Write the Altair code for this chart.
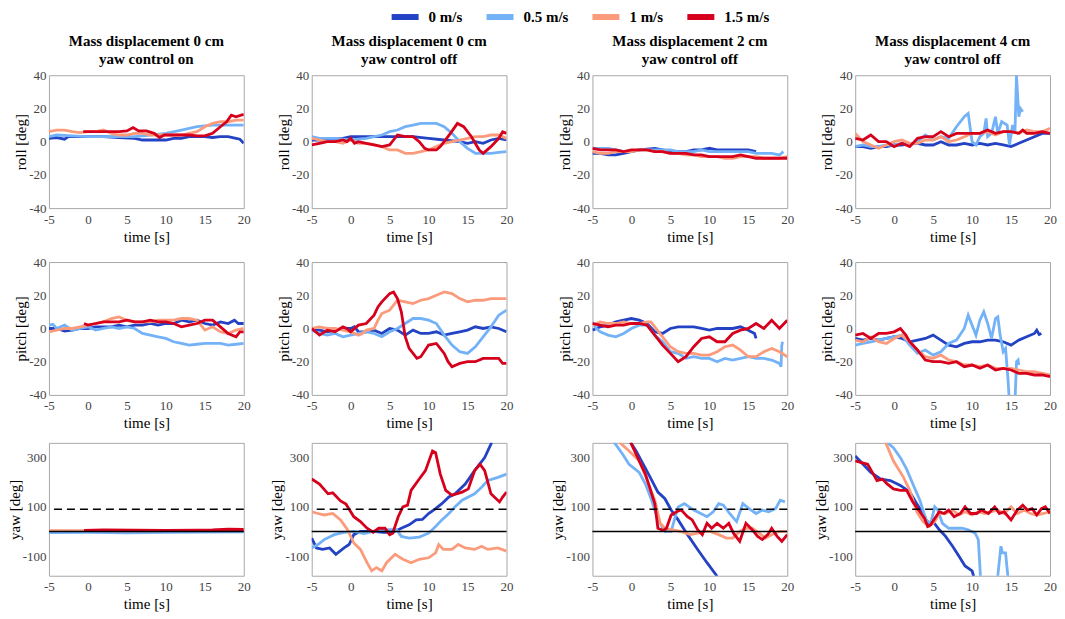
import altair as alt
import pandas as pd

SPEEDS = ["0 m/s", "0.5 m/s", "1 m/s", "1.5 m/s"]
COLORS = ["#2443c4", "#74b2f8", "#fb9b7b", "#d6001c"]
COL_TITLES = [
    ["Mass displacement 0 cm", "yaw control on"],
    ["Mass displacement 0 cm", "yaw control off"],
    ["Mass displacement 2 cm", "yaw control off"],
    ["Mass displacement 4 cm", "yaw control off"],
]
X_TICKS = [-5, 0, 5, 10, 15, 20]
ANG_TICKS = [-40, -20, 0, 20, 40]
YAW_TICKS = [-100, 0, 100, 200, 300]
YAW_REF = [0, 90]

# ---------------- column 1 ----------------
C1_ROLL_0 = [(-5,2),(-4,2.5),(-3,1.5),(-2.5,3),(-1,3),(0,3),(2,3),(4,2.5),(6,2),(7,1),(8,1),(9,1),(10,1),(11,2),(12,2),(13,3),(14,3),(15,3),(16,2.5),(17,3),(18,3),(19,2),(19.5,1.5),(20,-1)]
C1_ROLL_05 = [(-5,3),(-4,4),(-2,3.5),(0,3),(2,3),(4,3),(6,3),(8,4),(10,5),(12,7),(14,9),(16,10),(18,10),(20,10)]
C1_ROLL_1 = [(-5,6),(-4,7),(-3,7),(-2,6),(-1,5.5),(0,6),(1,6),(2,7),(3,5),(4,4),(5,4),(6,5),(7,5),(8,4),(9,4),(10,4),(11,4),(12,4),(13,5),(14,6),(15,9),(16,11),(17,12),(18,12),(19,13),(20,13)]
C1_ROLL_15 = [(-0.6,6),(0,6),(2,6),(4,6),(5,6.5),(5.8,8.5),(6.5,6.5),(7.5,6.5),(8.5,5),(9.2,2.5),(9.8,4),(11,4),(12,4),(13,4),(14,3.5),(15,3.5),(16,5),(17,9),(17.8,12),(18.4,16),(19,15),(20,16.5)]

C1_PITCH_0 = [(-5,0),(-4,0),(-3,-1.5),(-2,-1),(-1,0),(0,0),(1,1),(2,1),(3,1),(4,2),(5,1),(6,2),(7,2),(8,3),(9,2),(10,3),(11,3),(12,5),(13,4),(14,5),(15,3),(16,2),(17,4),(18,3),(18.8,5),(19.3,3),(20,3)]
C1_PITCH_05 = [(-5,2),(-4.5,2.5),(-4,0),(-3,2),(-2,-1),(-1,0),(0,1),(1,-1),(2,0),(3,1),(4,0),(5,1),(6,0),(7,-3),(8,-4),(9,-5),(10,-6),(11,-8),(12,-9),(13,-10),(14,-9.5),(15,-9),(16,-9),(17,-9),(18,-10),(19,-9.5),(20,-9)]
C1_PITCH_1 = [(-5,-2),(-4,-1),(-3,0),(-2,0),(-1,1),(0,2),(1,3),(2,4),(3,6),(4,7),(5,5),(6,4),(7,4),(8,4),(9,5),(10,5),(11,5),(12,6),(13,6),(14,5),(15,-1),(16,1),(17,-2),(18,-3),(19,-1),(20,0)]
C1_PITCH_15 = [(-0.5,3),(0,2),(1,3),(2,4),(3,4),(4,4),(5,5),(6,4),(7,4),(8,5),(9,4),(10,4),(11,3),(12,1),(13,2),(14,3),(15,5),(16,5),(17,1),(18,-3),(19,-5),(19.5,-2),(20,-2)]

C1_YAW_0 = [(-5,-2),(0,-1),(5,0),(10,1),(15,1),(20,2)]
C1_YAW_05 = [(-5,-5),(0,-4),(5,-6),(10,-4),(15,-3),(20,-2)]
C1_YAW_1 = [(-5,3),(0,3),(5,2),(10,3),(15,4),(20,5)]
C1_YAW_15 = [(-0.5,4),(2,6),(6,5),(10,4),(14,5),(16,6),(18,9),(20,8)]

# ---------------- column 2 ----------------
C2_ROLL_0 = [(-5,1),(-3,1),(-1,2),(0,3),(2,3),(4,3),(6,3),(8,3),(10,2),(12,1),(14,0),(15,-1),(16,0),(17,-1),(18,1),(19,2),(20,1)]
C2_ROLL_05 = [(-5,3),(-4,2),(-2,2),(0,1),(2,2),(4,4),(5,6),(6,7),(7,9),(8,10),(9,11),(10,11),(11,11),(12,9),(13,5),(14,0),(15,-4),(16,-7),(17,-7),(18,-7),(19,-6.5),(20,-6)]
C2_ROLL_1 = [(-5,2),(-4,1),(-3,0),(-2,0),(-1,-1),(0,1),(1,-1),(2,-1),(3,-2),(4,-3),(5,-5),(6,-5),(7,-7),(8,-7),(9,-6),(10,-5),(11,-3),(12,-1),(13,0),(14,1),(15,2),(16,3),(17,3),(18,4),(19,4),(20,2)]
C2_ROLL_15 = [(-5,-2),(-4,-1),(-3,0),(-2,0),(-1,1),(-0.5,0),(0,2),(0.5,-1),(1,0),(2,-1),(3,-2),(4,-3),(5,-2),(5.5,1),(6,4),(7,3),(8,3),(8.8,0),(9.5,-4),(10,-5),(11,-5),(11.5,-3),(12,0),(12.8,5),(13.7,11),(14.5,9),(15.5,3),(16.5,-5),(17,-7),(18,-3),(19,2),(19.5,6),(20,5)]

C2_PITCH_0 = [(-5,-1),(-4,-1),(-3,-2),(-2,-1),(-1,0),(0,0),(0.5,1),(1,-2),(2,-2),(3,-1),(4,-3),(5,0),(6,-1),(7,-4),(8,-1),(9,-3),(10,-3),(11,-2),(12,-4),(13,-3),(14,-2),(15,-1),(16,1),(17,0),(18,1),(19,0),(20,-2)]
C2_PITCH_05 = [(-5,-1),(-4,-3),(-3,-4),(-2,-3),(-1,-5),(0,-4),(1,-3),(2,-2),(3,-3),(4,-5),(5,-2),(6,0),(7,3),(8,6),(9,6),(10,5),(11,3),(12,-4),(13,-10),(14,-14),(15,-15),(16,-11),(17,-5),(18,1),(19,8),(20,11)]
C2_PITCH_1 = [(-5,0),(-4,1),(-3,0),(-2,0),(-1,-1),(0,-2),(1,-4),(1.5,-3),(2,-1),(3,0),(3.5,5),(4,9),(5,11),(6,17),(7,16),(8,15),(9,17),(10,18),(11,20),(12,22),(13,21),(14,18),(15,16),(16,17),(17,17),(18,18),(19,18),(20,18)]
C2_PITCH_15 = [(-5,0),(-4.5,-2),(-4,-4),(-3,-1),(-2,-2),(-1,1),(-0.5,0),(0,-2),(1,2),(2,3),(3,8),(3.5,13),(4,16),(5,21),(5.5,22),(6,18),(6.5,10),(7,-5),(7.5,-12),(8.5,-18),(9,-17),(10,-10),(11,-9),(12,-15),(12.5,-20),(13,-23),(14,-21),(15,-20),(16,-20),(17,-18),(18,-18),(19,-18),(19.5,-21),(20,-21)]

C2_YAW_0 = [(-5,-27),(-4.4,-67),(-3.6,-73),(-2.7,-67),(-1.9,-93),(-0.85,-67),(-0.2,-53),(0.4,-13),(1.25,0),(2.9,0),(4.2,-4),(5.4,-4),(6.5,13),(7.5,27),(8.4,47),(9.2,49),(10,73),(10.9,93),(11.7,113),(12.6,140),(13.4,153),(14.7,193),(15.9,247),(17.2,300),(18.1,362)]
C2_YAW_05 = [(-5,-67),(-4.2,-53),(-3.4,-33),(-2.1,-13),(-0.85,-4),(0.4,0),(1.7,-9),(2.9,0),(4.6,7),(5.9,7),(6.5,-20),(7.5,-27),(8.8,-23),(10,-7),(10.9,20),(11.7,47),(12.6,73),(13.4,100),(14.3,127),(15.1,140),(15.9,153),(16.8,180),(17.6,207),(18.9,220),(20,233)]
C2_YAW_1 = [(-5,80),(-4.2,73),(-3.4,67),(-2.3,73),(-1.3,47),(-0.4,7),(0.4,-47),(1.25,-73),(2.1,-127),(2.7,-160),(3.3,-147),(4,-160),(4.6,-127),(5.7,-93),(6.7,-113),(7.75,-127),(8.8,-113),(10,-107),(10.9,-87),(11.3,-53),(11.9,-73),(13,-73),(13.8,-53),(14.7,-67),(15.9,-73),(16.8,-60),(17.6,-73),(18.9,-67),(20,-80)]
C2_YAW_15 = [(-5,213),(-4,193),(-2.9,153),(-2.3,157),(-1.3,124),(-0.6,111),(0.4,60),(1.25,40),(2.1,13),(2.9,-3),(3.6,13),(4.4,13),(5,-13),(5.4,-7),(6.1,60),(6.7,100),(7.3,107),(7.75,167),(8.8,213),(9.6,247),(10.5,327),(10.9,320),(11.5,233),(12.2,167),(13,147),(14.3,160),(15.1,173),(15.9,247),(16.6,273),(17.2,247),(18,153),(19.1,120),(19.5,140),(20,160)]

# ---------------- column 3 ----------------
C3_ROLL_0 = [(-5,-7),(-4,-7),(-3,-8),(-2,-8),(-1,-7),(0,-6),(1,-5),(2,-4.5),(3,-4),(4,-5),(5,-6),(6,-6),(7,-6),(8,-5),(9,-5),(10,-4),(11,-5),(12,-5),(13,-5),(14,-5),(15,-5),(16,-6)]
C3_ROLL_05 = [(-5,-4),(-4,-4),(-3,-4),(-2,-5),(-1,-6),(0,-6),(1,-5),(2,-5),(3,-5),(4,-5),(5,-5),(6,-6),(7,-6),(8,-6),(9,-5),(10,-6),(11,-6),(12,-6),(13,-6),(14,-6),(15,-6),(16,-7),(17,-7),(18,-7),(19,-8),(19.5,-6)]
C3_ROLL_1 = [(-5,-6),(-4,-7),(-3,-7),(-2,-6),(-1,-6),(0,-6),(1,-5),(2,-5),(3,-6),(4,-6),(5,-7),(6,-7),(7,-8),(8,-8),(9,-9),(10,-9),(11,-9),(12,-10),(13,-10),(14,-9),(15,-9),(16,-9),(17,-10),(18,-10),(19,-10),(20,-9)]
C3_ROLL_15 = [(-5,-4),(-4,-5),(-3,-5),(-2,-5),(-1,-6),(0,-5),(1,-5),(2,-5),(3,-6),(4,-6),(5,-7),(6,-7),(7,-7),(8,-8),(9,-8),(10,-9),(11,-9),(12,-9),(13,-9),(14,-8),(15,-9),(16,-10),(17,-10),(18,-10),(19,-10),(20,-10)]

C3_PITCH_0 = [(-5,-1),(-4,1),(-3,2),(-2,4),(-1,5),(0,6),(1,5),(2,3),(3,-2),(4,-3),(5,0),(6,1),(7,1),(8,1),(9,0),(10,-1),(11,0),(12,0),(13,0),(14,1),(15,-1),(15.8,-3),(16,-6)]
C3_PITCH_05 = [(-5,4),(-4.5,0),(-4,-2),(-3,-4),(-2,-5),(-1,-3),(0,0),(1,2),(2,2),(3,-4),(4,-8),(5,-14),(6,-15),(7,-18),(8,-17),(9,-18),(10,-18),(11,-20),(12,-18),(13,-19),(14,-18),(15,-17),(16,-18),(17,-18),(18,-19),(19,-21),(19.2,-23),(19.3,-10),(19.4,-8)]
C3_PITCH_1 = [(-5,2),(-4,4),(-3,3),(-2,3),(-1,4),(0,3),(1,3),(2,4),(2.5,4),(3,1),(4,-5),(5,-11),(6,-14),(7,-15),(8,-15),(9,-16),(10,-16),(11,-14),(12,-11),(13,-10),(14,-13),(15,-17),(16,-17),(17,-14),(18,-12),(19,-14),(20,-17)]
C3_PITCH_15 = [(-5,3),(-4,2),(-3,1),(-2,2),(-1,2),(0,3),(1,3),(2,2),(3,-4),(4,-10),(5,-15),(6,-20),(7,-17),(8,-11),(9,-6),(10,-5),(11,-8),(12,-8),(13,-3),(14,-1),(15,0),(16,3),(17,0),(18,5),(19,0),(20,5)]

C3_YAW_0 = [(-0.1,362),(0.6,327),(2.2,233),(3.4,160),(4.3,133),(5.1,87),(6,47),(7.2,-13),(8.5,-73),(9.7,-127),(11,-182)]
C3_YAW_05 = [(-2.2,362),(-1.1,313),(-0.3,273),(1,240),(1.8,193),(2.6,127),(3.4,47),(4.3,0),(4.7,0),(5.1,0),(6,100),(6.8,113),(8,87),(8.9,73),(9.7,60),(10.5,80),(11.2,113),(11.8,107),(12.6,73),(13.5,40),(14.3,113),(15.1,93),(16,73),(16.8,87),(17.6,80),(18.5,93),(19.1,127),(19.7,120)]
C3_YAW_1 = [(-1.5,362),(-0.3,327),(1,287),(2.2,193),(3,127),(3.7,33),(4.3,13),(5.1,7),(6.3,0),(7.6,-13),(8.5,-7),(9.3,0),(10.1,0),(11.2,-13),(12.2,-27),(13,-27),(13.9,0),(14.7,13),(15.5,13),(16.4,-7),(17.2,-27),(18,-13),(18.9,0),(20,0)]
C3_YAW_15 = [(-0.1,362),(1,287),(1.8,233),(2.6,153),(3,113),(3.4,13),(4.1,4),(4.5,13),(5.1,67),(5.8,80),(6.4,87),(7.2,60),(7.8,47),(8.5,7),(9.1,-13),(9.7,33),(10.3,13),(11,33),(11.8,13),(12.5,33),(13.1,-7),(13.9,-40),(14.7,33),(15.5,7),(16.2,-20),(16.8,-33),(17.5,-13),(18,13),(18.7,-20),(19.3,-40),(20,-13)]

# ---------------- column 4 ----------------
C4_ROLL_0 = [(-5,-3),(-4,-3),(-3,-4),(-2,-3),(-1,-3),(0,-2),(1,-2),(2,-1),(3,-1),(4,-2),(5,-2),(6,0),(7,-2),(8,-2),(9,-1),(10,-2),(11,-1),(12,-2),(13,-1),(14,-2),(15,-3),(16,-1),(17,1),(18,3),(19,5),(20,5)]
C4_ROLL_05 = [(-5,-3),(-4,-2),(-3,-3),(-2,-3),(-1,-2),(0,-2),(1,-1),(2,-2),(3,0),(4,4),(5,1),(6,3),(7,2),(8,9),(9,15),(9.5,17),(10,0),(10.5,-2),(11,3),(11.5,5),(11.8,14),(12,3),(12.5,5),(13,15),(13.3,5),(13.8,12),(14.5,10),(14.8,-2),(15.2,10),(15.5,5),(15.7,40),(16,15),(16.2,20),(16.5,18)]
C4_ROLL_1 = [(-5,5),(-4,0),(-3,-2),(-2,-4),(-1,-2),(0,0),(1,1),(2,-1),(3,-1),(4,1),(5,1),(6,3),(7,0),(8,1),(9,3),(10,5),(11,5),(12,6),(13,4),(14,6),(15,6),(16,5),(17,7),(18,6),(19,6),(20,8)]
C4_ROLL_15 = [(-5,2),(-4,1),(-3,4),(-2,0),(-1,0),(0,-3),(1,-1),(2,-3),(3,2),(4,3),(5,3),(6,6),(7,3),(8,5),(9,5),(10,5),(11,5),(12,7),(13,5),(14,6),(15,6),(16,5),(16.5,7),(17,5),(18,5),(19,6),(20,5)]

C4_PITCH_0 = [(-5,-6),(-4,-7),(-3,-6),(-2,-7),(-1,-6),(0,-5),(1,-6),(2,-8),(3,-7),(4,-6),(5,-4),(6,-7),(7,-10),(8,-11),(9,-9),(10,-8),(11,-8),(12,-7),(13,-7),(14,-8),(15,-10),(16,-7),(17,-5),(18,-3),(18.3,-1),(18.6,-3.6),(18.9,-3)]
C4_PITCH_05 = [(-5,-10),(-4,-9),(-3,-8),(-2,-7),(-1,-6),(0,-5),(1,-4),(2,-10),(3,-15),(4,-13),(5,-16),(6,-14),(7,-9),(8,-7),(9,0),(9.5,8),(10,2),(10.5,-4),(11,5),(11.5,10),(12,3),(12.5,-6),(13,6),(13.3,7),(13.6,-4),(14,-14),(14.3,-12),(14.6,-30),(14.8,-45),(15.5,-45),(15.7,-20),(15.9,-19),(16,-22)]
C4_PITCH_1 = [(-5,-7),(-4,-8),(-3,-5),(-2,-8),(-1,-9),(0,-6),(1,-4),(2,-8),(3,-13),(4,-17),(5,-18),(6,-16),(7,-19),(8,-20),(9,-22),(10,-22),(11,-23),(12,-22),(13,-24),(14,-24),(15,-24),(16,-25),(17,-26),(18,-26),(19,-27),(20,-28)]
C4_PITCH_15 = [(-5,-4),(-4,-3),(-3,-6),(-2,-3),(-1,-3),(0,-2),(0.8,0),(1.5,-4),(2,-8),(3,-13),(4,-19),(5,-20),(6,-20),(7,-21),(8,-20),(9,-23),(10,-22),(11,-24),(12,-22),(13,-25),(14,-24),(15,-25),(16,-27),(17,-27),(18,-28),(19,-28),(20,-29)]

C4_YAW_0 = [(-5,307),(-4.2,280),(-3,240),(-1.7,213),(-0.5,207),(0.8,187),(2,160),(2.9,113),(3.7,73),(4.3,33),(5,40),(5.8,7),(6.6,-20),(7.5,-60),(8.3,-100),(9.1,-140),(10,-160),(10.2,-182)]
C4_YAW_05 = [(-0.9,362),(-0.1,340),(0.8,300),(1.6,253),(2.4,193),(3.3,127),(4.1,47),(4.7,33),(5.2,100),(5.6,87),(6.2,33),(7,13),(7.9,13),(8.7,13),(9.5,7),(10.4,-7),(10.8,-33),(11.2,-250),(13.2,-250),(13.3,-180),(13.7,-60),(13.9,-87),(14.3,-87),(14.8,-250)]
C4_YAW_1 = [(-1.1,362),(-0.1,287),(1.2,220),(2,167),(2.9,80),(3.7,40),(4.5,20),(5.2,40),(5.8,73),(6.6,73),(7.5,87),(8.3,67),(9.1,80),(10,67),(10.8,80),(11.6,73),(12.5,80),(13.3,87),(14.1,73),(15,100),(15.8,73),(16.7,87),(17.5,73),(18.3,67),(19.2,73),(20,80)]
C4_YAW_15 = [(-5,287),(-4.2,280),(-3.4,273),(-2.8,240),(-2.2,207),(-1.5,213),(-0.9,193),(-0.1,173),(0.8,167),(1.6,167),(2.4,120),(3.3,80),(3.9,53),(4.3,20),(4.7,27),(5.2,53),(5.8,80),(6.4,73),(7,87),(7.7,60),(8.5,73),(9.1,100),(9.8,73),(10.6,73),(11.2,87),(12.1,73),(12.9,100),(13.5,73),(14.1,80),(15,47),(15.8,87),(16.5,107),(17.1,87),(17.7,93),(18.3,67),(18.9,93),(19.4,100),(20,73)]

PANELS = [
    [(C1_ROLL_0, C1_ROLL_05, C1_ROLL_1, C1_ROLL_15),
     (C1_PITCH_0, C1_PITCH_05, C1_PITCH_1, C1_PITCH_15),
     (C1_YAW_0, C1_YAW_05, C1_YAW_1, C1_YAW_15)],
    [(C2_ROLL_0, C2_ROLL_05, C2_ROLL_1, C2_ROLL_15),
     (C2_PITCH_0, C2_PITCH_05, C2_PITCH_1, C2_PITCH_15),
     (C2_YAW_0, C2_YAW_05, C2_YAW_1, C2_YAW_15)],
    [(C3_ROLL_0, C3_ROLL_05, C3_ROLL_1, C3_ROLL_15),
     (C3_PITCH_0, C3_PITCH_05, C3_PITCH_1, C3_PITCH_15),
     (C3_YAW_0, C3_YAW_05, C3_YAW_1, C3_YAW_15)],
    [(C4_ROLL_0, C4_ROLL_05, C4_ROLL_1, C4_ROLL_15),
     (C4_PITCH_0, C4_PITCH_05, C4_PITCH_1, C4_PITCH_15),
     (C4_YAW_0, C4_YAW_05, C4_YAW_1, C4_YAW_15)],
]
ROW_LABELS = ["roll [deg]", "pitch [deg]", "yaw [deg]"]

FONT = "Liberation Serif"
W, H = 195, 133


def panel(series, row, title=None):
    rows = []
    for name, pts in zip(SPEEDS, series):
        for i, (t, v) in enumerate(pts):
            rows.append({"t": t, "v": v, "speed": name, "i": i})
    df = pd.DataFrame(rows)
    if row < 2:
        dom, ticks = [-40, 40], ANG_TICKS
    else:
        dom, ticks = [-180, 360], YAW_TICKS
    x = alt.X("t:Q", scale=alt.Scale(domain=[-5, 20], nice=False),
              axis=alt.Axis(values=X_TICKS, title="time [s]", labelFlush=False,
                            labelExpr="'' + datum.value", labelFont=FONT, titleFont=FONT))
    y = alt.Y("v:Q", scale=alt.Scale(domain=dom, nice=False, zero=False),
              axis=alt.Axis(values=ticks, title=ROW_LABELS[row], labelExpr="'' + datum.value",
                            labelFont=FONT, titleFont=FONT))
    lines = alt.Chart(df).mark_line(strokeWidth=2.8, clip=True).encode(
        x=x, y=y,
        color=alt.Color("speed:N", scale=alt.Scale(domain=SPEEDS, range=COLORS),
                        legend=alt.Legend(title=None, orient="none", direction="horizontal",
                                          legendX=340, legendY=-75)),
        order="i:Q",
    )
    layers = [lines]
    if row == 2:
        ref = pd.DataFrame({"y": YAW_REF, "kind": ["zero", "target"]})
        zero = alt.Chart(ref[ref.kind == "zero"]).mark_rule(color="black", strokeWidth=1.6).encode(y="y:Q")
        tgt = alt.Chart(ref[ref.kind == "target"]).mark_rule(color="black", strokeWidth=1.6,
                                                              strokeDash=[8, 5]).encode(y="y:Q")
        layers += [zero, tgt]
    ch = alt.layer(*layers).properties(width=W, height=H)
    if title is not None:
        ch = ch.properties(title=alt.TitleParams(text=title, font=FONT, fontSize=15, fontWeight="bold",
                                                 anchor="middle", offset=2, lineHeight=18, color="black"))
    return ch


cols = []
for c in range(4):
    cells = [panel(PANELS[c][r], r, COL_TITLES[c] if r == 0 else None) for r in range(3)]
    cols.append(alt.vconcat(*cells, spacing=10))

chart = alt.hconcat(
    alt.hconcat(cols[0], cols[1], spacing=18),
    alt.hconcat(cols[2], cols[3], spacing=18),
    spacing=36,
).properties(padding={"left": -2, "top": -8, "right": 0, "bottom": 0}).configure_view(
    stroke="#a8a8a8", strokeWidth=1
).configure_axis(
    domain=False, ticks=False, grid=False,
    labelFont=FONT, labelFontSize=13, labelColor="#444444", labelPadding=3,
    titleFont=FONT, titleFontSize=15, titleFontWeight="normal", titleColor="black", titlePadding=0,
).configure_axisX(titlePadding=3, labelPadding=5).configure_legend(
    labelFont=FONT, labelFontSize=15, labelFontWeight="bold", labelColor="black",
    symbolType="stroke", symbolStrokeWidth=6, symbolSize=729, labelOffset=7, columnPadding=12,
    symbolOpacity=1,
)

chart.save("out.html", embed_options={"renderer": "svg", "actions": False})
